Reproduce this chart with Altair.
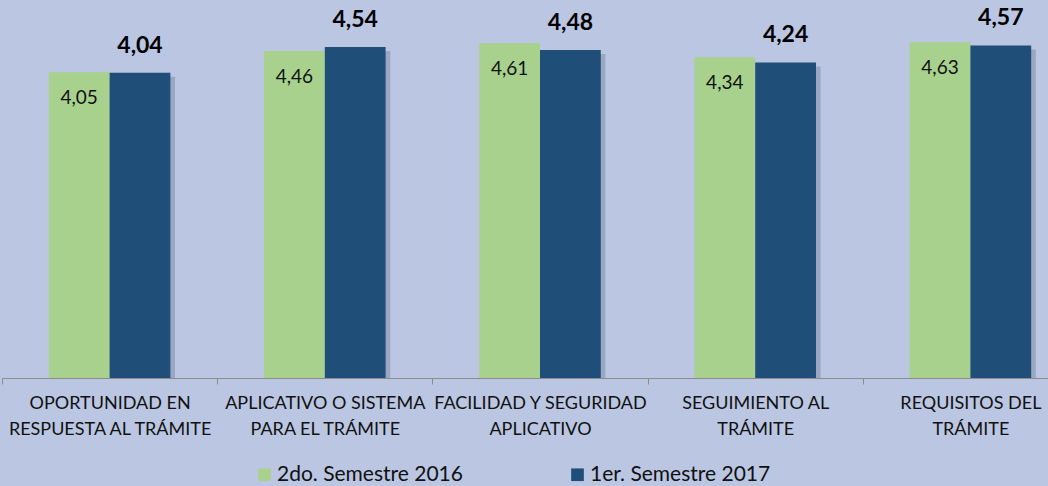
import altair as alt
import pandas as pd

categories = [
    "OPORTUNIDAD EN|RESPUESTA AL TRÁMITE",
    "APLICATIVO O SISTEMA|PARA EL TRÁMITE",
    "FACILIDAD Y SEGURIDAD|APLICATIVO",
    "SEGUIMIENTO AL|TRÁMITE",
    "REQUISITOS DEL|TRÁMITE",
]
series = ["2do. Semestre 2016", "1er. Semestre 2017"]
s2016 = [4.05, 4.46, 4.61, 4.34, 4.63]
s2017 = [4.04, 4.54, 4.48, 4.24, 4.57]

rows = []
for i, c in enumerate(categories):
    rows.append({"cat": c, "serie": series[0], "v": s2016[i]})
    rows.append({"cat": c, "serie": series[1], "v": s2017[i]})
df = pd.DataFrame(rows)

GREEN = "#A9D18E"
BLUE = "#1F4E79"
BG = "#BAC6E2"
FONT = "Lato"
W, H = 1046, 378
YMIN, YMAX = -1.863, 5.448

x_scale = alt.Scale(range=[0, 1076], paddingInner=0, paddingOuter=0)
x_axis = alt.Axis(
    title=None,
    labelExpr="split(datum.label, '|')",
    labelAngle=0,
    labelFont=FONT,
    labelFontSize=18,
    labelColor="#111111",
    labelLineHeight=26,
    labelPadding=10,
    labelLimit=0,
    tickBand="extent",
    tickSize=6,
    tickColor="#8C8C8C",
    domainColor="#8C8C8C",
    domainWidth=1,
    grid=False,
)
x = alt.X("cat:N", sort=categories, scale=x_scale, axis=x_axis)
xo_scale = alt.Scale(domain=series, paddingInner=0, paddingOuter=0.77)
xo = alt.XOffset("serie:N", sort=series, scale=xo_scale)
y = alt.Y(
    "v:Q",
    stack=None,
    scale=alt.Scale(domain=[YMIN, YMAX], zero=False, nice=False),
    axis=None,
)

base = alt.Chart(df).encode(x=x, xOffset=xo)

# soft shadow on the right side of the dark bars
shadow = (
    alt.Chart(df)
    .transform_filter(alt.datum.serie == series[1])
    .mark_rule(color="#8792AD", opacity=0.6, strokeWidth=6, yOffset=4)
    .encode(
        x=alt.X("cat:N", sort=categories, scale=x_scale, axis=x_axis, bandPosition=0.79),
        y=y,
        y2=alt.datum(YMIN),
    )
)

bars = base.mark_bar().encode(
    y=y,
    y2=alt.datum(YMIN),
    color=alt.Color(
        "serie:N",
        sort=series,
        scale=alt.Scale(domain=series, range=[GREEN, BLUE]),
        legend=alt.Legend(
            orient="none",
            legendX=252,
            legendY=464,
            direction="horizontal",
            title=None,
            symbolType="square",
            symbolSize=160,
            symbolStrokeWidth=0,
            symbolOpacity=1,
            labelFont=FONT,
            labelFontSize=21,
            labelColor="#111111",
            labelLimit=0,
            columnPadding=104,
            labelOffset=2,
        ),
    ),
)

green_lbl = (
    base.transform_filter(alt.datum.serie == series[0])
    .transform_calculate(lbl="replace(format(datum.v, '.2f'), '.', ',')")
    .mark_text(font=FONT, fontSize=19, color="#111111", baseline="middle", dy=26)
    .encode(y=y, text="lbl:N")
)
blue_lbl = (
    base.transform_filter(alt.datum.serie == series[1])
    .transform_calculate(lbl="replace(format(datum.v, '.2f'), '.', ',')")
    .mark_text(font=FONT, fontSize=23, fontWeight="bold", color="#000000", baseline="middle", dy=-27)
    .encode(y=y, text="lbl:N")
)

chart = (
    alt.layer(shadow, bars, green_lbl, blue_lbl)
    .properties(
        width=W,
        height=H,
        background=BG,
        autosize=alt.AutoSizeParams(type="none"),
        padding={"left": 2, "top": 0, "right": 0, "bottom": 108},
    )
    .configure_view(stroke=None)
)

chart.save("out.html", embed_options={"renderer": "svg", "actions": False})
